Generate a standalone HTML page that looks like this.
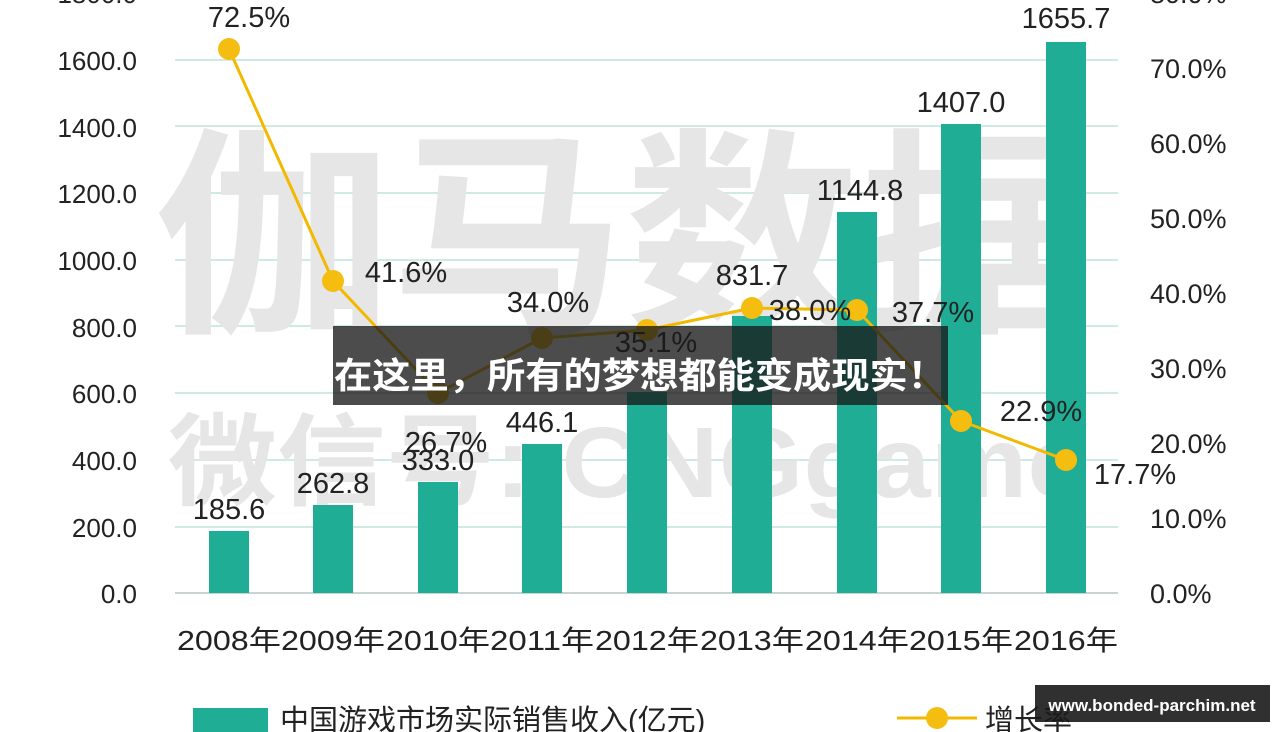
<!DOCTYPE html>
<html><head><meta charset="utf-8"><style>
body{margin:0;background:#fff;width:1280px;height:732px;overflow:hidden;font-family:"Liberation Sans","Noto Sans CJK SC",sans-serif}
</style></head><body>
<svg width="1280" height="732" xmlns="http://www.w3.org/2000/svg" style="position:absolute;left:0;top:0">
<g stroke="#cfe9e4" stroke-width="2">
<line x1="175" x2="1118" y1="-7" y2="-7"/><line x1="175" x2="1118" y1="60" y2="60"/><line x1="175" x2="1118" y1="126" y2="126"/><line x1="175" x2="1118" y1="193" y2="193"/><line x1="175" x2="1118" y1="260" y2="260"/><line x1="175" x2="1118" y1="326" y2="326"/><line x1="175" x2="1118" y1="393" y2="393"/><line x1="175" x2="1118" y1="460" y2="460"/><line x1="175" x2="1118" y1="527" y2="527"/>
</g>
<line x1="175" x2="1118" y1="593" y2="593" stroke="#c8d4d2" stroke-width="2"/>
<g font-family="Liberation Sans,Noto Sans CJK SC,sans-serif" font-weight="bold" fill="#e6e6e6">
<text x="155" y="315" font-size="220" textLength="940" lengthAdjust="spacingAndGlyphs">伽马数据</text>
<text x="168" y="497" font-size="100" textLength="920" lengthAdjust="spacingAndGlyphs">微信号: CNGgame</text>
</g>
<g fill="#1fae95">
<rect x="209" y="531" width="40" height="62"/><rect x="313" y="505" width="40" height="88"/><rect x="418" y="482" width="40" height="111"/><rect x="522" y="444" width="40" height="149"/><rect x="627" y="392" width="40" height="201"/><rect x="732" y="316" width="40" height="277"/><rect x="837" y="212" width="40" height="381"/><rect x="941" y="124" width="40" height="469"/><rect x="1046" y="42" width="40" height="551"/>
</g>
<polyline fill="none" stroke="#f2b900" stroke-width="3" points="229,49 333,281 438,393 542,338 647,330 752,308 857,310 961,421 1066,460"/>
<g fill="#f5bd10">
<circle cx="229" cy="49" r="11"/><circle cx="333" cy="281" r="11"/><circle cx="438" cy="393" r="11"/><circle cx="542" cy="338" r="11"/><circle cx="647" cy="330" r="11"/><circle cx="752" cy="308" r="11"/><circle cx="857" cy="310" r="11"/><circle cx="961" cy="421" r="11"/><circle cx="1066" cy="460" r="11"/>
</g>
<g font-size="29" fill="#222" text-anchor="middle">
<text x="229" y="519">185.6</text><text x="333" y="493">262.8</text><text x="438" y="470">333.0</text><text x="542" y="432">446.1</text><text x="752" y="285">831.7</text><text x="860" y="200">1144.8</text><text x="961" y="112">1407.0</text><text x="1066" y="28">1655.7</text>
<text x="249" y="27">72.5%</text><text x="406" y="282">41.6%</text><text x="446" y="452">26.7%</text><text x="548" y="312">34.0%</text><text x="656" y="352">35.1%</text><text x="810" y="320">38.0%</text><text x="933" y="322">37.7%</text><text x="1041" y="421">22.9%</text><text x="1135" y="484">17.7%</text>
</g>
<g font-size="26" fill="#222" text-anchor="end">
<text x="137" y="3">1800.0</text><text x="137" y="70">1600.0</text><text x="137" y="137">1400.0</text><text x="137" y="203">1200.0</text><text x="137" y="270">1000.0</text><text x="137" y="337">800.0</text><text x="137" y="403">600.0</text><text x="137" y="470">400.0</text><text x="137" y="537">200.0</text><text x="137" y="603">0.0</text>
</g>
<g font-size="27" fill="#222">
<text x="1150" y="3">80.0%</text><text x="1150" y="78">70.0%</text><text x="1150" y="153">60.0%</text><text x="1150" y="228">50.0%</text><text x="1150" y="303">40.0%</text><text x="1150" y="378">30.0%</text><text x="1150" y="453">20.0%</text><text x="1150" y="528">10.0%</text><text x="1150" y="603">0.0%</text>
</g>
<g font-size="28" fill="#222" text-anchor="middle">
<text x="229" y="650" textLength="104" lengthAdjust="spacingAndGlyphs">2008年</text><text x="333" y="650" textLength="104" lengthAdjust="spacingAndGlyphs">2009年</text><text x="438" y="650" textLength="104" lengthAdjust="spacingAndGlyphs">2010年</text><text x="542" y="650" textLength="104" lengthAdjust="spacingAndGlyphs">2011年</text><text x="647" y="650" textLength="104" lengthAdjust="spacingAndGlyphs">2012年</text><text x="752" y="650" textLength="104" lengthAdjust="spacingAndGlyphs">2013年</text><text x="857" y="650" textLength="104" lengthAdjust="spacingAndGlyphs">2014年</text><text x="961" y="650" textLength="104" lengthAdjust="spacingAndGlyphs">2015年</text><text x="1066" y="650" textLength="104" lengthAdjust="spacingAndGlyphs">2016年</text>
</g>
<rect x="193" y="708" width="75" height="24" fill="#1fae95"/>
<text x="280" y="730" font-size="29" fill="#222">中国游戏市场实际销售收入(亿元)</text>
<line x1="897" x2="977" y1="718" y2="718" stroke="#f2b900" stroke-width="3"/>
<circle cx="937" cy="718" r="11" fill="#f5bd10"/>
<text x="985" y="730" font-size="29" fill="#222">增长率</text>
<rect x="333" y="326" width="615" height="79" fill="#1a1a1a" opacity="0.78"/>
<text x="334" y="388" font-size="36" font-weight="bold" fill="#fff" textLength="612" lengthAdjust="spacingAndGlyphs">在这里，所有的梦想都能变成现实！</text>
<rect x="1035" y="685" width="235" height="37" fill="#1a1a1a" opacity="0.9"/>
<text x="1152" y="711" font-size="17" font-weight="bold" fill="#fff" text-anchor="middle">www.bonded-parchim.net</text>
</svg>
</body></html>
